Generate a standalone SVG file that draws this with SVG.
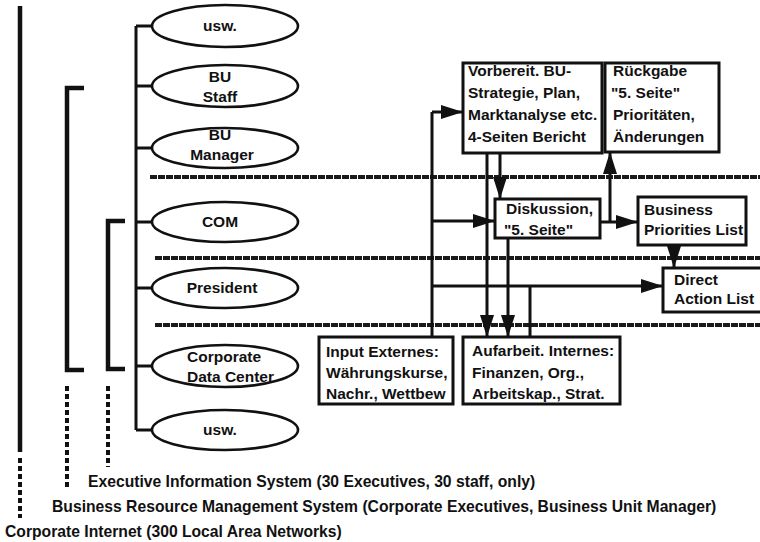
<svg xmlns="http://www.w3.org/2000/svg" width="760" height="542" viewBox="0 0 760 542">
<defs>
<style>
text{font-family:"Liberation Sans",Arial,sans-serif;font-weight:bold;font-size:15.5px;fill:#111}
.c{text-anchor:middle}
.b{font-size:15.7px}
.ell{fill:#fff;stroke:#111;stroke-width:2.6}
.box{fill:#fff;stroke:#111;stroke-width:3}
.ln{fill:none;stroke:#111;stroke-width:3}
.br{fill:none;stroke:#111;stroke-width:4.5}
.dash{fill:none;stroke:#111;stroke-width:4;stroke-dasharray:5 3}
.dot{fill:none;stroke:#1a1a1a;stroke-width:4;stroke-dasharray:7 1}
.arr{fill:none;stroke:#111;stroke-width:3;marker-end:url(#ah)}
</style>
<marker id="ah" markerUnits="userSpaceOnUse" markerWidth="24" markerHeight="16" refX="22" refY="8" orient="auto">
<path d="M0,1 L22,8 L0,15 z" fill="#111"/>
</marker>
</defs>
<rect width="760" height="542" fill="#fff"/>

<g id="systems">
<path class="br" d="M20,6 V452"/>
<path class="dash" d="M20,458 V518"/>
<path class="br" d="M84,88 H67 V370 H84"/>
<path class="dash" d="M67,386 V490"/>
<path class="br" d="M125,221 H108 V369 H125"/>
<path class="dash" d="M108,386 V467"/>
<text class="b" x="88" y="487">Executive Information System (30 Executives, 30 staff, only)</text>
<text class="b" x="52" y="512">Business Resource Management System (Corporate Executives, Business Unit Manager)</text>
<text class="b" x="5" y="537">Corporate Internet (300 Local Area Networks)</text>
</g>

<g id="levels">
<path class="dot" d="M150,177 H760"/>
<path class="dot" d="M155,258 H760"/>
<path class="dot" d="M155,325 H760"/>
</g>

<g id="connectors">
<path class="ln" d="M136,26 V430 M136,26 H152 M136,86 H152 M136,148 H152 M136,222 H152 M136,288 H152 M136,366 H152 M136,430 H152"/>
<path class="ln" d="M432,337 V112"/>
<path class="arr" d="M432,112 H463"/>
<path class="arr" d="M432,221 H495"/>
<path class="arr" d="M432,286 H663"/>
<path class="arr" d="M487,153 V337"/>
<path class="arr" d="M500,153 V199"/>
<path class="arr" d="M508,238 V337"/>
<path class="ln" d="M530,286 V337"/>
<path class="arr" d="M600,222 H638"/>
<path class="arr" d="M610,222 V152"/>
<path class="arr" d="M674,245 V268"/>
</g>

<g id="usw1"><ellipse class="ell" cx="225" cy="26" rx="73" ry="21"/><text class="c" x="220" y="31">usw.</text></g>
<g id="bustaff"><ellipse class="ell" cx="225" cy="86" rx="73" ry="21"/><text class="c" x="220" y="82">BU</text><text class="c" x="220" y="102">Staff</text></g>
<g id="bumanager"><ellipse class="ell" cx="225" cy="148" rx="73" ry="20"/><text class="c" x="220" y="140">BU</text><text class="c" x="222" y="160">Manager</text></g>
<g id="com"><ellipse class="ell" cx="225" cy="222" rx="73" ry="20"/><text class="c" x="220" y="227">COM</text></g>
<g id="president"><ellipse class="ell" cx="225" cy="288" rx="73" ry="20"/><text class="c" x="222" y="293">President</text></g>
<g id="cdc"><ellipse class="ell" cx="225" cy="366" rx="73" ry="21"/><text x="187" y="362">Corporate</text><text x="187" y="382">Data Center</text></g>
<g id="usw2"><ellipse class="ell" cx="225" cy="430" rx="73" ry="20"/><text class="c" x="220" y="435">usw.</text></g>

<g id="vorbereit"><rect class="box" x="463" y="63" width="139" height="90"/>
<text x="468" y="76">Vorbereit. BU-</text><text x="468" y="98">Strategie, Plan,</text><text x="468" y="120">Marktanalyse etc.</text><text x="468" y="142">4-Seiten Bericht</text></g>
<g id="rueckgabe"><rect class="box" x="605" y="63" width="114" height="89"/>
<text x="613" y="76">Rückgabe</text><text x="611" y="98">"5. Seite"</text><text x="613" y="120">Prioritäten,</text><text x="613" y="142">Änderungen</text></g>
<g id="diskussion"><rect class="box" x="495" y="199" width="105" height="39"/>
<text x="506" y="214">Diskussion,</text><text x="504" y="235">"5. Seite"</text></g>
<g id="bpl"><rect class="box" x="638" y="197" width="108" height="48"/>
<text x="644" y="215">Business</text><text x="644" y="235">Priorities List</text></g>
<g id="dal"><rect class="box" x="663" y="268" width="105" height="44"/>
<text x="674" y="285">Direct</text><text x="674" y="304">Action List</text></g>
<g id="input"><rect class="box" x="319" y="337" width="134" height="67"/>
<text x="326" y="357">Input Externes:</text><text x="326" y="378">Währungskurse,</text><text x="326" y="399">Nachr., Wettbew</text></g>
<g id="aufarbeit"><rect class="box" x="463" y="337" width="157" height="67"/>
<text x="472" y="356">Aufarbeit. Internes:</text><text x="472" y="378">Finanzen, Org.,</text><text x="472" y="399">Arbeitskap., Strat.</text></g>
</svg>
